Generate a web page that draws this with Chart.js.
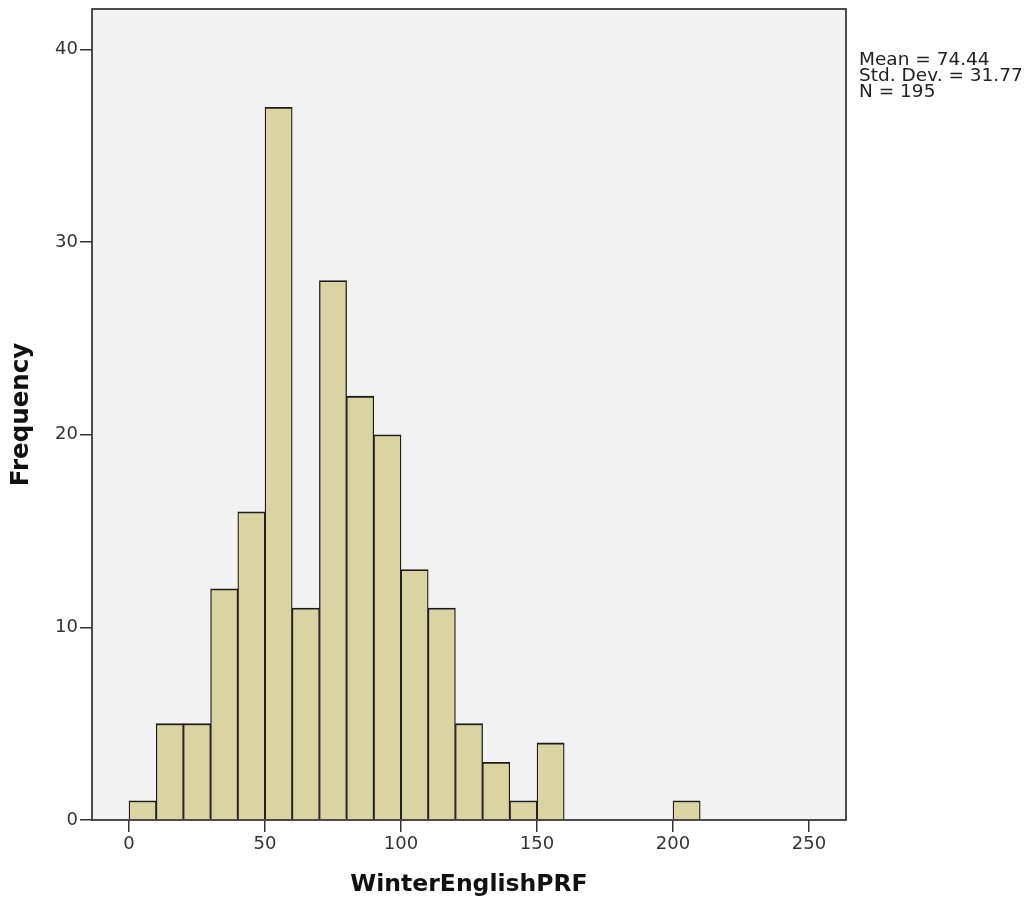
<!DOCTYPE html>
<html><head><meta charset="utf-8">
<script src="https://cdn.jsdelivr.net/npm/chart.js@4/dist/chart.umd.min.js"></script>
<style>html,body{margin:0;padding:0;background:#fff}#wrap{width:1034px;height:907px}</style>
</head><body><div id="wrap"><canvas id="c" width="1034" height="907"></canvas></div>
<script>
const binStarts = [0,10,20,30,40,50,60,70,80,90,100,110,120,130,140,150,200];
const frequencies = [1,5,5,12,16,37,11,28,22,20,13,11,5,3,1,4,1];
const xTickValues = [0,50,100,150,200,250];
const yTickValues = [0,10,20,30,40];
const statsLines = ['Mean = 74.44','Std. Dev. = 31.77','N = 195'];
const binWidth = 10;

const data = binStarts.map((s,i)=>({x:s+binWidth/2, y:frequencies[i]}));

const framePlugin = {
  id:'frame',
  beforeDraw(chart){
    const {ctx, chartArea:a} = chart;
    ctx.save();
    ctx.fillStyle='#F2F2F2';
    ctx.fillRect(a.left,a.top,a.right-a.left,a.bottom-a.top);
    ctx.restore();
  },
  afterDraw(chart){
    const {ctx, chartArea:a} = chart;
    ctx.save();
    ctx.strokeStyle='#3a3a3a';
    ctx.lineWidth=1.8;
    ctx.strokeRect(a.left,a.top,a.right-a.left,a.bottom-a.top);
    ctx.fillStyle='#222';
    ctx.font='18.5px "DejaVu Sans"';
    ctx.textBaseline='alphabetic';
    statsLines.forEach((t,i)=>ctx.fillText(t, a.right+13, 64.5+i*16.3));
    ctx.restore();
  }
};

new Chart(document.getElementById('c'),{
  type:'bar',
  data:{datasets:[{data, backgroundColor:'#DAD4A3', borderColor:'#1c1c1c', borderWidth:{top:1.8,left:1.3,right:1.3,bottom:0}, barPercentage:1, categoryPercentage:1, borderSkipped:false}]},
  options:{
    responsive:false, animation:false,
    layout:{padding:{top:9,right:188,left:0,bottom:0}},
    plugins:{legend:{display:false},tooltip:{enabled:false}},
    scales:{
      x:{type:'linear', min:-13.6, max:263.6, offset:false,
        afterBuildTicks(s){s.ticks = xTickValues.map(v=>({value:v}));},
        afterFit(s){s.height=87; s.paddingLeft=0; s.paddingRight=0;},
        grid:{drawOnChartArea:false, offset:false, tickLength:12, color:'#333', lineWidth:1.5},
        border:{display:false},
        ticks:{color:'#333', font:{family:'DejaVu Sans', size:18}, padding:2, maxRotation:0},
        title:{display:true, text:'WinterEnglishPRF', color:'#111', font:{family:'DejaVu Sans', size:23.5, weight:'bold'}, padding:{top:0,bottom:8}}
      },
      y:{min:0, max:42.1,
        afterBuildTicks(s){s.ticks = yTickValues.map(v=>({value:v}));},
        afterFit(s){s.width=92; s.paddingTop=0; s.paddingBottom=0;},
        grid:{drawOnChartArea:false, tickLength:12, color:'#333', lineWidth:1.5},
        border:{display:false},
        ticks:{color:'#333', font:{family:'DejaVu Sans', size:18}, padding:2},
        title:{display:true, text:'Frequency', color:'#111', font:{family:'DejaVu Sans', size:24.5, weight:'bold'}, padding:{top:7,bottom:0}}
      }
    }
  },
  plugins:[framePlugin]
});
</script></body></html>
